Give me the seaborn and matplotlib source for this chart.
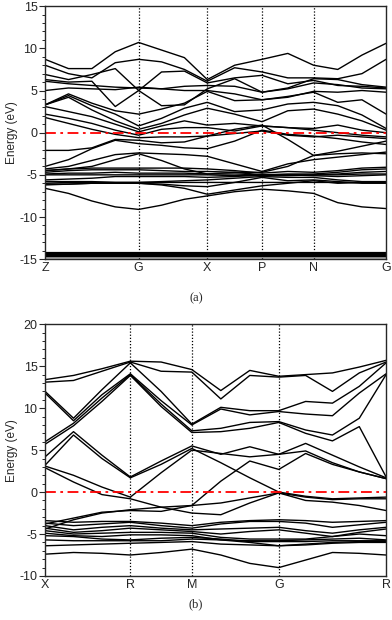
import numpy as np
import pandas as pd
import matplotlib
matplotlib.use("Agg")
import matplotlib.pyplot as plt
from matplotlib.ticker import MultipleLocator
import seaborn as sns

# ---- panel (a): Z-G-X-P-N-G ----
labels_a = ["Z", "G", "X", "P", "N", "G"]
hs_a = [0, 93.3, 161.7, 216.3, 267.7, 340]      # path length of high-symmetry points
steps_a = [4, 3, 2, 2, 3]                        # sample points per segment

bands_a = [
    [8.7, 7.6, 7.6, 9.6, 10.7, 9.8, 8.9, 6.3, 8.0, 8.7, 9.4, 8.0, 7.5, 9.2, 10.6],
    [8.0, 7.0, 6.5, 8.3, 8.7, 8.4, 7.5, 6.1, 7.7, 7.2, 6.5, 6.5, 6.4, 7.0, 8.7],
    [6.9, 6.3, 6.9, 7.6, 5.0, 3.2, 3.3, 5.2, 6.4, 4.8, 5.3, 6.4, 6.3, 5.7, 5.4],
    [6.3, 6.0, 6.1, 3.1, 5.0, 7.2, 7.3, 5.9, 6.5, 6.8, 5.8, 6.2, 5.6, 5.5, 5.3],
    [6.1, 5.8, 5.6, 5.4, 5.3, 5.2, 5.5, 5.6, 5.5, 4.8, 5.2, 5.9, 5.7, 5.3, 5.2],
    [5.0, 5.3, 5.2, 5.1, 5.4, 5.2, 5.0, 5.0, 4.6, 3.9, 4.2, 4.9, 4.8, 5.0, 4.8],
    [3.3, 4.6, 3.5, 2.6, 2.2, 2.8, 3.5, 4.9, 3.8, 3.9, 4.3, 4.8, 3.6, 3.9, 2.2],
    [3.3, 4.4, 3.2, 2.2, 0.8, 1.7, 2.9, 3.6, 2.5, 2.7, 3.4, 3.6, 3.2, 2.1, 0.5],
    [3.3, 4.2, 2.7, 1.4, 0.4, 1.1, 2.1, 2.9, 2.2, 1.3, 2.6, 2.8, 2.2, 1.4, 0.3],
    [3.1, 2.5, 1.9, 1.0, 0.1, 0.8, 1.4, 0.9, 1.1, 0.8, 0.6, 0.5, 0.9, 0.3, 0.0],
    [2.2, 1.7, 1.1, 0.3, -0.3, 0.4, 0.6, 0.6, 0.2, 0.8, 0.6, 0.3, 0.0, -0.3, -0.5],
    [1.8, 1.1, 0.4, -0.2, -0.6, -0.5, -0.5, -0.4, -0.1, 0.2, -0.3, -0.5, -0.3, -0.5, -0.7],
    [-2.1, -2.1, -1.8, -0.8, -0.9, -1.2, -1.1, -0.4, 0.4, 0.9, -0.8, -2.7, -2.2, -1.6, -1.0],
    [-4.0, -3.2, -1.9, -0.9, -1.3, -1.5, -1.8, -1.9, -1.0, 0.3, -0.2, -0.4, -0.7, -1.1, -1.4],
    [-4.3, -4.0, -3.3, -2.6, -2.4, -2.5, -2.6, -2.8, -3.7, -4.6, -3.7, -3.2, -2.9, -2.6, -2.3],
    [-4.5, -4.3, -4.0, -3.2, -2.5, -3.3, -4.3, -4.9, -4.7, -4.7, -4.0, -2.7, -2.5, -2.4, -2.5],
    [-4.5, -4.3, -4.2, -4.2, -4.2, -4.2, -4.2, -4.3, -4.5, -4.8, -4.6, -4.7, -4.5, -4.2, -4.1],
    [-4.7, -4.5, -4.4, -4.4, -4.4, -4.5, -4.6, -4.6, -4.7, -5.0, -4.9, -4.9, -4.7, -4.4, -4.3],
    [-4.9, -4.8, -4.8, -4.7, -4.8, -4.8, -4.8, -4.9, -4.9, -5.0, -5.0, -5.0, -4.9, -4.7, -4.6],
    [-5.0, -5.0, -5.0, -5.0, -5.0, -5.0, -5.0, -5.0, -5.1, -5.1, -5.1, -5.0, -5.0, -4.9, -4.9],
    [-5.6, -5.5, -5.4, -5.2, -5.2, -5.2, -5.2, -5.3, -5.2, -5.0, -5.0, -5.1, -5.2, -5.1, -5.0],
    [-5.8, -5.8, -5.8, -5.9, -5.9, -5.8, -5.7, -5.6, -5.4, -5.2, -5.3, -5.3, -5.6, -5.8, -5.8],
    [-6.0, -5.9, -5.9, -5.9, -5.9, -5.9, -5.9, -5.9, -5.9, -5.9, -5.9, -5.9, -5.9, -5.9, -5.9],
    [-6.1, -6.1, -6.0, -6.0, -6.0, -6.1, -6.3, -6.4, -5.9, -5.3, -5.7, -5.6, -5.8, -6.0, -6.0],
    [-6.2, -6.1, -6.0, -6.0, -6.0, -6.2, -6.6, -7.3, -6.8, -6.3, -6.0, -5.7, -6.0, -5.9, -5.9],
    [-6.6, -7.2, -8.1, -8.8, -9.1, -8.6, -7.9, -7.5, -7.0, -6.7, -6.9, -7.2, -8.3, -8.8, -9.0],
]
# nearly flat semicore bands near -14.5 eV
flat_a = [-14.3, -14.4, -14.5, -14.6, -14.7]
flat_a_grey = -14.88

# ---- panel (b): X-R-M-G-R ----
labels_b = ["X", "R", "M", "G", "R"]
hs_b = [0, 85, 146.3, 233, 340]
steps_b = [3, 2, 3, 4]

bands_b = [
    [13.4, 13.9, 14.7, 15.6, 15.5, 14.6, 12.1, 14.5, 13.8, 14.0, 14.2, 14.9, 15.7],
    [13.1, 13.3, 14.4, 15.5, 14.4, 14.3, 11.1, 13.9, 13.7, 13.9, 12.0, 14.2, 15.5],
    [12.0, 8.8, 12.2, 15.4, 12.0, 8.1, 10.1, 9.7, 9.7, 10.8, 10.6, 12.6, 15.4],
    [11.8, 8.5, 11.6, 14.1, 10.9, 8.0, 9.9, 9.2, 9.6, 9.3, 9.1, 11.8, 14.1],
    [6.0, 8.2, 11.2, 14.0, 10.5, 7.3, 7.6, 8.3, 8.4, 7.4, 6.8, 8.8, 14.0],
    [5.7, 7.9, 10.8, 13.9, 10.2, 7.1, 7.2, 7.6, 8.3, 7.0, 6.1, 7.8, 1.8],
    [4.2, 7.2, 4.4, 1.8, 3.7, 5.5, 4.5, 5.4, 4.5, 5.8, 4.4, 3.0, 1.7],
    [3.2, 6.8, 4.0, 1.7, 3.3, 5.2, 3.5, 1.7, 0.0, -0.5, -0.8, -0.7, -0.6],
    [3.1, 2.0, 0.6, -0.6, 2.3, 5.0, 4.6, 4.2, 4.5, 4.9, 3.5, 2.4, 1.6],
    [2.9, 1.2, -0.3, -0.8, -1.8, -2.5, -2.7, -1.3, -0.1, -1.0, -1.2, -1.6, -2.2],
    [-4.4, -3.3, -2.5, -2.1, -1.8, -1.6, 1.3, 3.7, 2.7, 4.6, 3.3, 2.4, 1.6],
    [-3.8, -3.1, -2.4, -2.2, -2.3, -1.6, -1.3, -0.7, -0.1, -0.6, -0.9, -0.8, -0.8],
    [-3.4, -3.6, -3.5, -3.5, -3.7, -4.0, -3.6, -3.4, -3.3, -3.4, -3.6, -3.5, -3.4],
    [-3.7, -4.0, -3.8, -3.6, -4.0, -4.3, -3.8, -3.5, -3.5, -3.7, -4.2, -3.9, -3.6],
    [-4.0, -4.5, -4.2, -4.0, -4.3, -4.5, -4.4, -4.3, -4.2, -4.6, -4.9, -4.5, -4.2],
    [-4.3, -4.8, -4.6, -4.3, -4.5, -4.7, -5.0, -4.7, -4.5, -4.9, -5.3, -4.8, -4.4],
    [-4.6, -5.0, -4.9, -4.8, -4.8, -4.9, -5.4, -5.6, -5.6, -5.6, -5.3, -5.0, -5.2],
    [-4.9, -5.2, -5.3, -5.1, -5.1, -5.2, -5.7, -5.8, -5.8, -5.7, -5.6, -5.5, -5.7],
    [-5.2, -5.3, -5.6, -5.7, -5.5, -5.4, -5.6, -5.9, -5.9, -5.9, -5.8, -5.8, -5.8],
    [-5.7, -5.8, -5.8, -5.8, -5.8, -5.6, -5.7, -6.0, -6.4, -6.2, -6.0, -5.9, -5.9],
    [-6.4, -6.3, -6.2, -6.1, -6.0, -5.9, -6.2, -6.3, -6.4, -6.3, -6.1, -6.0, -6.0],
    [-7.4, -7.2, -7.3, -7.5, -7.2, -6.8, -7.5, -8.5, -9.0, -8.1, -7.2, -7.3, -7.5],
]


def kpath(hs, steps):
    pts = [hs[0]]
    for i, n in enumerate(steps):
        pts += list(np.linspace(hs[i], hs[i + 1], n + 1)[1:])
    return np.array(pts)


def long_df(k, bands):
    rows = []
    for b, vals in enumerate(bands):
        for kk, e in zip(k, vals):
            rows.append((b, kk, e))
    return pd.DataFrame(rows, columns=["band", "k", "E"])


sns.set_style("ticks")
plt.rcParams["font.family"] = ["Liberation Sans", "DejaVu Sans"]
plt.rcParams["axes.unicode_minus"] = False

fig = plt.figure(figsize=(3.92, 6.2), dpi=100)
ax_a = fig.add_axes([0.115, 0.582, 0.870, 0.408])
ax_b = fig.add_axes([0.115, 0.071, 0.870, 0.406])


def draw(ax, hs, steps, bands, labels, ylim, flats=(), grey=None):
    k = kpath(hs, steps)
    df = long_df(k, bands)
    sns.lineplot(data=df, x="k", y="E", units="band", estimator=None,
                 color="black", lw=1.0, sort=False, legend=False, ax=ax)
    if len(flats):
        flat_df = long_df(hs, [[v] * len(hs) for v in flats])
        sns.lineplot(data=flat_df, x="k", y="E", units="band", estimator=None,
                     color="black", lw=1.6, legend=False, ax=ax)
    if grey is not None:
        ax.plot(hs, [grey] * len(hs), color="0.65", lw=1.2)
    for x in hs[1:-1]:
        ax.axvline(x, color="black", ls=(0, (1, 1.5)), lw=0.9)
    ax.axhline(0, color="red", ls=(0, (6, 2.5, 1.5, 2.5)), lw=1.3)
    ax.set_xlim(hs[0], hs[-1])
    ax.set_ylim(*ylim)
    ax.set_xticks(hs)
    ax.set_xticklabels(labels)
    ax.yaxis.set_major_locator(MultipleLocator(5))
    ax.yaxis.set_minor_locator(MultipleLocator(1))
    ax.tick_params(axis="y", which="major", direction="out", length=4, width=0.8, labelsize=9, pad=1.5)
    ax.tick_params(axis="y", which="minor", direction="out", length=2, width=0.7)
    ax.tick_params(axis="x", length=0, labelsize=9, pad=2)
    ax.set_xlabel("")
    ax.set_ylabel("Energy (eV)", fontsize=8.5, labelpad=1)
    for s in ax.spines.values():
        s.set_visible(True)
        s.set_linewidth(1.0)


draw(ax_a, hs_a, steps_a, bands_a, labels_a, (-15, 15), flat_a, flat_a_grey)
draw(ax_b, hs_b, steps_b, bands_b, labels_b, (-10, 20))

fig.text(0.5, 1 - 298 / 620, "(a)", ha="center", va="center", fontsize=9, family="Liberation Serif")
fig.text(0.5, 1 - 604 / 620, "(b)", ha="center", va="center", fontsize=9, family="Liberation Serif")

fig.savefig("out.png", dpi=100)
